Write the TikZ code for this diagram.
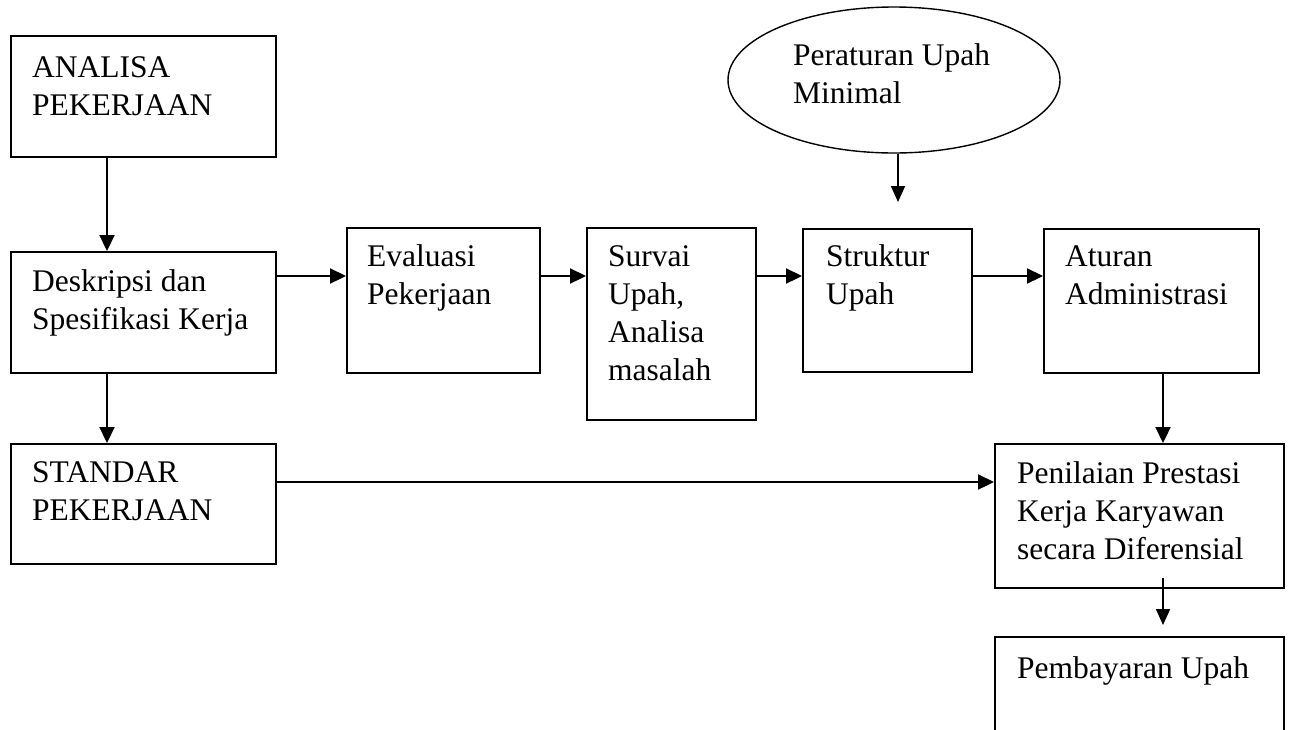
\documentclass[tikz,border=0pt]{standalone}
\usepackage{fontspec}
\setmainfont{Liberation Serif}
\usetikzlibrary{shapes.geometric,arrows.meta}
\begin{document}
\begin{tikzpicture}[x=1pt,y=-1pt,
  box/.style={draw,line width=1.7pt,inner sep=0pt,anchor=north west},
  txt/.style={anchor=north west,inner sep=0pt,align=left,font=\fontsize{31.5}{38}\selectfont},
  arr/.style={line width=2.2pt,-{Triangle[length=16pt,width=15pt]}},
  thinarr/.style={line width=1.7pt,-{Triangle[length=16pt,width=14pt]}}]
\useasboundingbox (0,0) rectangle (1290,729);
\clip (0,0) rectangle (1290,729);
\fill[white] (0,0) rectangle (1290,729);
% helper coordinates
\coordinate (row) at (0,276);
\coordinate (row2) at (0,482);
\coordinate (colL) at (107,0);
\coordinate (colR) at (1163,0);
\coordinate (e) at (898,202);
\coordinate (p1) at (1163,578);
\coordinate (p2) at (1163,625);
% boxes
\node[box,minimum width=265pt,minimum height=121pt] (a) at (10,35) {};
\node[box,minimum width=265pt,minimum height=121pt] (d) at (10,251) {};
\node[box,minimum width=265pt,minimum height=120pt] (s) at (10,443) {};
\node[box,minimum width=193pt,minimum height=145pt] (ev) at (346,227) {};
\node[box,minimum width=169pt,minimum height=192pt] (sv) at (586,227) {};
\node[box,minimum width=169pt,minimum height=143pt] (st) at (802,228) {};
\node[box,minimum width=215pt,minimum height=144pt] (at) at (1043,228) {};
\node[box,minimum width=289pt,minimum height=144pt] (pn) at (994,443) {};
\node[box,minimum width=289pt,minimum height=130pt] (pb) at (994,636) {};
\node[draw,ellipse,line width=1.4pt,minimum width=332pt,minimum height=146pt,inner sep=0pt] (ell) at (894,80) {};
% texts
\node[txt] (ta) at (32,{77-26.6}) {\strut ANALISA\\PEKERJAAN};
\node[txt] (td) at (32,{291-26.6}) {\strut Deskripsi dan\\Spesifikasi Kerja};
\node[txt] (ts) at (32,{482-26.6}) {\strut STANDAR\\PEKERJAAN};
\node[txt] (tev) at (367,{266-26.6}) {\strut Evaluasi\\Pekerjaan};
\node[txt] (tsv) at (608,{266-26.6}) {\strut Survai\\Upah,\\Analisa\\masalah};
\node[txt] (tst) at (826,{266-26.6}) {\strut Struktur\\Upah};
\node[txt] (tat) at (1065,{266-26.6}) {\strut Aturan\\Administrasi};
\node[txt] (tpn) at (1017,{483-26.6}) {\strut Penilaian Prestasi\\Kerja Karyawan\\secara Diferensial};
\node[txt] (tpb) at (1017,{678-26.6}) {\strut Pembayaran Upah};
\node[txt] (tell) at (793,{65-26.6}) {\strut Peraturan Upah\\Minimal};
% connectors
\draw[arr] (a.south -| colL) -- (d.north -| colL);
\draw[arr] (d.south -| colL) -- (s.north -| colL);
\draw[arr] (d.east |- row) -- (ev.west |- row);
\draw[arr] (ev.east |- row) -- (sv.west |- row);
\draw[arr] (sv.east |- row) -- (st.west |- row);
\draw[arr] (st.east |- row) -- (at.west |- row);
\draw[arr] (at.south -| colR) -- (pn.north -| colR);
\draw[arr] (s.east |- row2) -- (pn.west |- row2);
\draw[thinarr] (ell.south -| e) -- (e);
\draw[thinarr] (p1) -- (p2);
\end{tikzpicture}
\end{document}
